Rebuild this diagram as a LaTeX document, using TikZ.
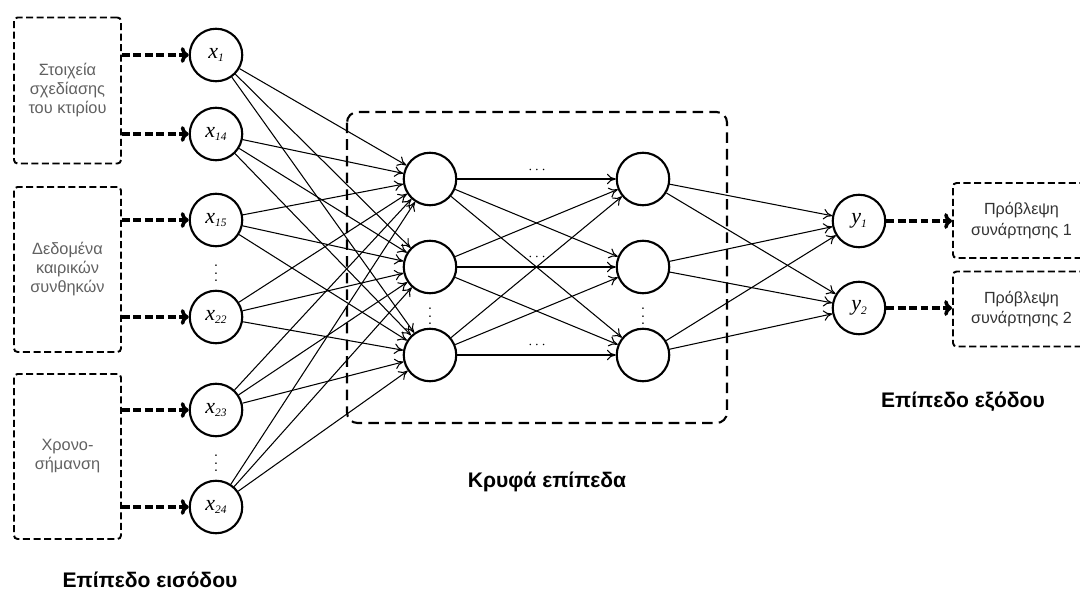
\documentclass[tikz,border=0pt]{standalone}
\usepackage{fontspec}
\setmainfont{Liberation Sans}
\newfontfamily\timesfont{Liberation Serif}
\usetikzlibrary{arrows.meta}

\newcommand{\nvar}[2]{{\timesfont\itshape #1\raisebox{-0.35ex}{\fontsize{6.5}{7}\selectfont #2}}}

\tikzset{
  neuron/.style={circle, draw, line width=1.2pt, minimum size=1.05cm, inner sep=0pt,
                 font=\fontsize{12.5}{14}\selectfont},
  databox/.style={draw, rounded corners=2pt, line width=1.1pt, dash pattern=on 4pt off 2pt,
                  minimum width=2.14cm, align=center, text=black!62,
                  font=\fontsize{9.3}{10.8}\selectfont},
  resultbox/.style={databox, minimum width=2.74cm, minimum height=1.5cm, text=black!80,
                    font=\fontsize{9.2}{11.5}\selectfont},
  feed/.style={-{To[length=4.5pt, width=9pt]}, line width=2pt, dash pattern=on 4.5pt off 2pt},
  link/.style={-{To[length=5pt, width=6pt]}, line width=0.6pt},
  dots/.style={inner sep=0pt, font=\footnotesize},
  layername/.style={font=\bfseries\fontsize{12}{14}\selectfont}
}

\begin{document}
\begin{tikzpicture}[x=0.02cm, y=-0.02cm]
        \useasboundingbox (0,0) rectangle (1080,591);
        \clip (0,0) rectangle (1080,591);

        \node[databox, minimum height=2.92cm] (design) at (67.5,90.5) {Στοιχεία\\σχεδίασης\\του κτιρίου};
        \node[databox, minimum height=3.3cm] (weather) at (67.5,269.5) {Δεδομένα\\καιρικών\\συνθηκών};
        \node[databox, minimum height=3.3cm] (stamp) at (67.5,456.5) {Χρονο-\\σήμανση};

        \node[neuron] (x1) at (216,55) {\nvar{x}{1}};
        \node[neuron] (x14) at (216,134) {\nvar{x}{14}};
        \node[neuron] (x15) at (216,220) {\nvar{x}{15}};
        \node[neuron] (x22) at (216,317) {\nvar{x}{22}};
        \node[neuron] (x23) at (216,410) {\nvar{x}{23}};
        \node[neuron] (x24) at (216,507) {\nvar{x}{24}};
        \node[dots] (vdotsA) at (216,268) {$\vdots$};
        \node[dots] (vdotsB) at (216,458) {$\vdots$};

        \draw[line width=1.2pt, rounded corners=6pt, dash pattern=on 6pt off 3.5pt]
                (347,112) rectangle (727,423);

        \node[neuron] (h11) at (430,179) {};
        \node[neuron] (h12) at (430,267) {};
        \node[neuron] (h13) at (430,355) {};
        \node[neuron] (h21) at (643,179) {};
        \node[neuron] (h22) at (643,267) {};
        \node[neuron] (h23) at (643,355) {};
        \node[dots] (vdotsC) at (430,311) {$\vdots$};
        \node[dots] (vdotsD) at (643,311) {$\vdots$};
        \node[dots] (hdotsA) at (537,170) {$\cdots$};
        \node[dots] (hdotsB) at (537,257) {$\cdots$};
        \node[dots] (hdotsC) at (537,345) {$\cdots$};

        \node[neuron] (y1) at (859,221) {\nvar{y}{1}};
        \node[neuron] (y2) at (859,308) {\nvar{y}{2}};

        \node[resultbox] (result1) at (1021.5,220.5) {Πρόβλεψη\\συνάρτησης 1};
        \node[resultbox] (result2) at (1021.5,309) {Πρόβλεψη\\συνάρτησης 2};

        \node[layername] (inlabel) at (150,580) {Επίπεδο εισόδου};
        \node[layername] (hidlabel) at (547,482) {Κρυφά επίπεδα};
        \node[layername] (outlabel) at (963,402) {Επίπεδο εξόδου};

        \draw[feed] (design.east |- x1) -- (x1);
        \draw[feed] (design.east |- x14) -- (x14);
        \draw[feed] (weather.east |- x15) -- (x15);
        \draw[feed] (weather.east |- x22) -- (x22);
        \draw[feed] (stamp.east |- x23) -- (x23);
        \draw[feed] (stamp.east |- x24) -- (x24);

        \foreach \i in {x1,x14,x15,x22,x23,x24}
          \foreach \j in {h11,h12,h13}
            \draw[link] (\i) -- (\j);
        \foreach \i in {h11,h12,h13}
          \foreach \j in {h21,h22,h23}
            \draw[link] (\i) -- (\j);
        \foreach \i in {h21,h22,h23}
          \foreach \j in {y1,y2}
            \draw[link] (\i) -- (\j);

        \draw[feed] (y1) -- (result1.west |- y1);
        \draw[feed] (y2) -- (result2.west |- y2);
\end{tikzpicture}
\end{document}
